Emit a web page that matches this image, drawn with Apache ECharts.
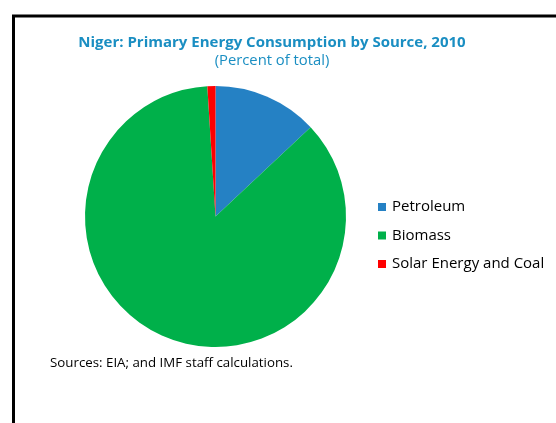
<!DOCTYPE html>
<html>
<head>
<meta charset="utf-8">
<script src="https://cdn.jsdelivr.net/npm/echarts@6/dist/echarts.min.js"></script>
<style>
html,body{margin:0;padding:0;background:#fff;}
#chart{width:556px;height:423px;}
</style>
</head>
<body>
<div id="chart"></div>
<script>
const categories = ['Petroleum', 'Biomass', 'Solar Energy and Coal'];
const shares = [13, 86, 1];
const colors = ['#2581c4', '#00b04a', '#ff0000'];
const titleText = 'Niger: Primary Energy Consumption by Source, 2010';
const subtitleText = '(Percent of total)';
const sourceText = 'Sources: EIA; and IMF staff calculations.';

const chart = echarts.init(document.getElementById('chart'), null, {renderer: 'canvas'});
chart.setOption({
  animation: false,
  backgroundColor: '#ffffff',
  title: {
    text: titleText,
    subtext: subtitleText,
    left: 267,
    textAlign: 'center',
    top: 30,
    itemGap: 3,
    textStyle: {fontFamily: 'Open Sans', fontWeight: 'bold', fontSize: 15, color: '#1a8ec2'},
    subtextStyle: {fontFamily: 'Open Sans', fontSize: 14.8, color: '#1a8ec2'}
  },
  legend: {
    orient: 'vertical',
    left: 373,
    top: 193,
    itemWidth: 8,
    itemHeight: 8,
    itemGap: 10.5,
    icon: 'rect',
    data: categories,
    textStyle: {fontFamily: 'Open Sans', fontSize: 15, color: '#000', lineHeight: 18, padding: [0,0,0,1]}
  },
  graphic: [
    {type: 'rect', shape: {x: 13.5, y: 16, width: 600, height: 500}, style: {fill: 'none', stroke: '#000', lineWidth: 3}, z: 100},
    {type: 'text', left: 50, top: 357, style: {text: sourceText, font: '13.3px "Open Sans"', fill: '#000'}}
  ],
  series: [{
    type: 'pie',
    center: [215.5, 216.5],
    radius: 130.5,
    startAngle: 90,
    clockwise: true,
    label: {show: false},
    labelLine: {show: false},
    emphasis: {disabled: true},
    itemStyle: {borderWidth: 0},
    data: categories.map((c, i) => ({name: c, value: shares[i], itemStyle: {color: colors[i]}}))
  }]
});
</script>
</body>
</html>
